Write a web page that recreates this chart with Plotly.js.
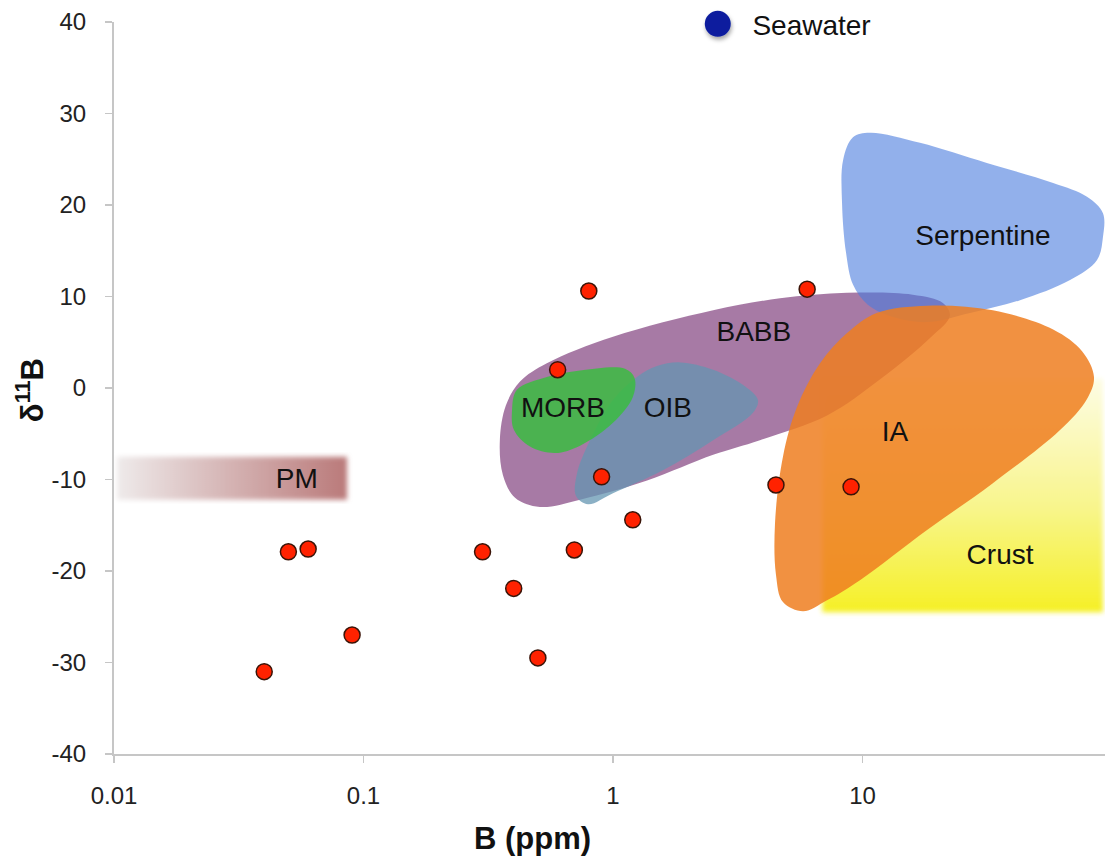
<!DOCTYPE html>
<html>
<head>
<meta charset="utf-8">
<script src="https://cdn.plot.ly/plotly-3.0.1.min.js"></script>
<style>
  html, body { margin: 0; padding: 0; background: #fff; }
  #chart { width: 1107px; height: 861px; }
</style>
</head>
<body>
<div id="chart"></div>
<script>
// Boron concentration (ppm) and δ11B (‰) of the samples
const sampleB   = [0.04, 0.05, 0.06, 0.09, 0.3, 0.4, 0.5, 0.7, 0.6, 0.8, 0.9, 1.2, 4.5, 6, 9];
const sampleD11 = [-31, -17.9, -17.6, -27, -17.9, -21.9, -29.5, -17.7, 2, 10.6, -9.7, -14.4, -10.6, 10.8, -10.8];

// Seawater reference value
const seawaterB   = [2.63];
const seawaterD11 = [39.8];

// Reservoir fields: outline vertices (B in ppm, δ11B in ‰)
const serpentineB = [8.28, 8.36, 9.16, 10.7, 17.0, 31.5, 58.1, 79.4, 92.0, 92.0, 87.1, 67.9, 42.8, 27.0, 18.2, 13.5, 10.5, 9.16, 8.59, 8.28];
const serpentineD = [20.2, 24.9, 27.4, 27.9, 26.8, 24.6, 22.4, 20.9, 19.1, 16.5, 14.0, 11.8, 9.6, 8.2, 7.2, 7.7, 9.1, 11.3, 14.8, 20.2];

const babbB = [0.352, 0.372, 0.424, 0.543, 1.00, 2.52, 4.67, 8.67, 15.9, 21.0, 22.4, 18.7, 11.7, 7.21, 3.88, 2.52, 1.37, 0.738, 0.509, 0.405, 0.362, 0.352];
const babbD = [-5.7, -1.9, 0.7, 2.7, 5.6, 8.5, 9.8, 10.4, 10.2, 9.3, 7.9, 5.5, 0.9, -3.0, -5.7, -7.3, -10.1, -12.2, -13.0, -12.0, -9.5, -5.7];

const morbB = [0.394, 0.412, 0.543, 0.738, 1.117, 1.22, 1.20, 1.00, 0.738, 0.586, 0.465, 0.401, 0.394];
const morbD = [-2.4, -0.2, 1.2, 1.9, 2.1, 1.1, -1.0, -3.8, -6.3, -7.1, -6.4, -4.6, -2.4];

const oibB = [1.86, 2.52, 3.38, 3.81, 3.64, 2.52, 1.585, 1.00, 0.794, 0.711, 0.718, 0.809, 1.00, 1.247, 1.50, 1.86];
const oibD = [2.8, 2.0, 0.2, -1.3, -2.7, -5.7, -9.0, -11.5, -12.7, -11.8, -9.3, -5.7, -1.3, 1.2, 2.4, 2.8];

const iaB = [4.46, 4.80, 5.46, 6.76, 8.67, 11.4, 18.2, 33.3, 58.1, 76.0, 84.7, 79.4, 61.9, 33.3, 18.2, 9.77, 7.21, 5.78, 4.80, 4.50, 4.46];
const iaD = [-14.8, -7.5, -2.1, 2.7, 6.0, 8.2, 9.0, 8.5, 6.4, 4.0, 1.2, -1.2, -4.6, -10.4, -15.5, -21.0, -23.2, -24.4, -23.4, -20.4, -14.8];

const crustB = [6.9, 92, 92, 6.9, 6.9];
const crustD = [-24.5, -24.5, 1, 1, -24.5];

const pmB = [0.0103, 0.0859, 0.0859, 0.0103, 0.0103];
const pmD = [-12.2, -12.2, -7.5, -7.5, -12.2];

// Field labels
const labelText = ['Serpentine', 'BABB', 'MORB', 'OIB', 'IA', 'Crust', 'PM', 'Seawater'];
const labelB    = [30.4, 3.67, 0.63, 1.66, 13.5, 35.6, 0.054, 6.25];
const labelD    = [16.4, 5.9, -2.4, -2.4, -5.0, -18.5, -10.2, 39.4];

// Axis ticks
const xTickVals = [0.01, 0.1, 1, 10];
const xTickText = ['0.01', '0.1', '1', '10'];
const yTickVals = [-40, -30, -20, -10, 0, 10, 20, 30, 40];
const yTickText = ['-40', '-30', '-20', '-10', '0', '10', '20', '30', '40'];

const FONT = 'Liberation Sans, Arial, Helvetica, sans-serif';

function field(xs, ys, color) {
  return {
    type: 'scatter', mode: 'lines', x: xs, y: ys,
    fill: 'toself', fillcolor: color,
    line: { width: 0, shape: 'spline', smoothing: 1 },
    hoverinfo: 'skip', showlegend: false
  };
}

const crust = {
  type: 'scatter', mode: 'lines', x: crustB, y: crustD,
  fill: 'toself',
  fillgradient: {
    type: 'vertical',
    colorscale: [[0, 'rgb(245,240,38)'], [0.45, 'rgb(248,245,140)'], [1, 'rgb(253,252,228)']]
  },
  line: { width: 0 }, hoverinfo: 'skip', showlegend: false
};

const pm = {
  type: 'scatter', mode: 'lines', x: pmB, y: pmD,
  fill: 'toself',
  fillgradient: {
    type: 'horizontal',
    colorscale: [[0, 'rgb(238,234,234)'], [1, 'rgb(186,122,122)']]
  },
  line: { width: 0 }, hoverinfo: 'skip', showlegend: false
};

const traces = [
  crust,
  field(babbB, babbD, 'rgba(145,89,142,0.8)'),
  field(serpentineB, serpentineD, 'rgba(73,123,222,0.6)'),
  field(oibB, oibD, 'rgba(100,150,178,0.75)'),
  field(morbB, morbD, 'rgba(59,188,65,0.85)'),
  field(iaB, iaD, 'rgba(238,126,32,0.85)'),
  pm,
  {
    type: 'scatter', mode: 'markers', x: seawaterB, y: seawaterD11,
    marker: { size: 26, color: '#0b1f9e', line: { width: 0 } },
    cliponaxis: false, hoverinfo: 'skip', showlegend: false
  },
  {
    type: 'scatter', mode: 'markers', x: sampleB, y: sampleD11,
    marker: { size: 16, color: '#ff2200', line: { width: 1.5, color: '#3a1408' } },
    hoverinfo: 'skip', showlegend: false
  },
  {
    type: 'scatter', mode: 'text', x: labelB, y: labelD, text: labelText,
    textposition: 'middle center',
    textfont: { family: FONT, size: 28, color: '#111' },
    cliponaxis: false, hoverinfo: 'skip', showlegend: false
  }
];

const axisCommon = {
  showline: true, linecolor: '#c6c6c6', linewidth: 2,
  ticks: 'outside', ticklen: 7, tickwidth: 1.5, tickcolor: '#c6c6c6',
  showgrid: false, zeroline: false,
  tickfont: { family: FONT, size: 24, color: '#222' }
};

const layout = {
  width: 1107, height: 861,
  margin: { l: 114, r: 2, t: 22, b: 107, pad: 0 },
  paper_bgcolor: '#fff', plot_bgcolor: '#fff',
  font: { family: FONT },
  showlegend: false,
  xaxis: Object.assign({}, axisCommon, {
    type: 'log', range: [-2, 1.972],
    tickmode: 'array', tickvals: xTickVals, ticktext: xTickText,
    ticklabelstandoff: 12
  }),
  yaxis: Object.assign({}, axisCommon, {
    range: [-40, 40], tickmode: 'array', tickvals: yTickVals, ticktext: yTickText,
    ticklabelstandoff: 14
  }),
  annotations: [
    {
      xref: 'paper', yref: 'paper', x: 0.4218, y: -0.1148,
      xanchor: 'center', yanchor: 'middle', showarrow: false,
      text: '<b>B (ppm)</b>', font: { family: FONT, size: 31, color: '#111' }
    },
    {
      xref: 'paper', yref: 'paper', x: -0.0848, y: 0.497,
      xanchor: 'center', yanchor: 'middle', showarrow: false, textangle: -90,
      text: '<b>δ<sup>11</sup>B</b>', font: { family: FONT, size: 31, color: '#111' }
    }
  ]
};

const gd = document.getElementById('chart');
Plotly.newPlot(gd, traces, layout, { staticPlot: true, displayModeBar: false }).then(function () {
  // soft edges for the Crust and PM fields, drop shadow under the seawater dot
  const ns = 'http://www.w3.org/2000/svg';
  const svg = gd.querySelector('svg.main-svg');
  let defs = svg.querySelector('defs');
  if (!defs) { defs = document.createElementNS(ns, 'defs'); svg.insertBefore(defs, svg.firstChild); }

  const soft = document.createElementNS(ns, 'filter');
  soft.setAttribute('id', 'soft-edge');
  soft.setAttribute('x', '-10%'); soft.setAttribute('y', '-10%');
  soft.setAttribute('width', '120%'); soft.setAttribute('height', '120%');
  const blur = document.createElementNS(ns, 'feGaussianBlur');
  blur.setAttribute('stdDeviation', '2.5');
  soft.appendChild(blur);
  defs.appendChild(soft);

  const shadow = document.createElementNS(ns, 'filter');
  shadow.setAttribute('id', 'dot-shadow');
  shadow.setAttribute('x', '-50%'); shadow.setAttribute('y', '-50%');
  shadow.setAttribute('width', '200%'); shadow.setAttribute('height', '200%');
  const ds = document.createElementNS(ns, 'feDropShadow');
  ds.setAttribute('dx', '1'); ds.setAttribute('dy', '3');
  ds.setAttribute('stdDeviation', '2'); ds.setAttribute('flood-opacity', '0.35');
  shadow.appendChild(ds);
  defs.appendChild(shadow);

  const groups = gd.querySelectorAll('.scatterlayer .trace');
  [0, 6].forEach(function (i) {
    groups[i].querySelectorAll('path.js-fill').forEach(function (p) {
      p.setAttribute('filter', 'url(#soft-edge)');
    });
  });
  groups[7].querySelectorAll('path.point').forEach(function (p) {
    p.setAttribute('filter', 'url(#dot-shadow)');
  });
});
</script>
</body>
</html>
